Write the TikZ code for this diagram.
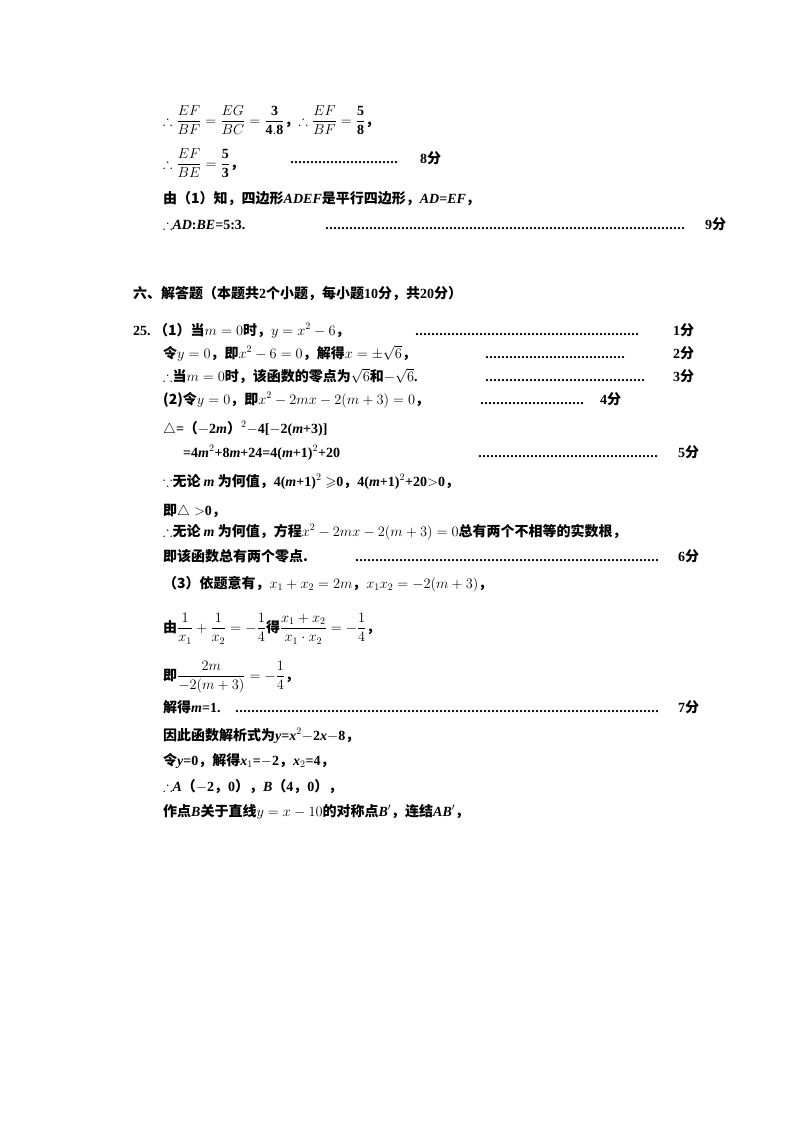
\documentclass[tikz,border=0pt]{standalone}
\usepackage{amsmath,amssymb}
\usepackage{fontspec}
\setmainfont{Liberation Serif}
\newfontfamily\cjk{Noto Sans CJK SC}
\newcommand{\C}[1]{{\cjk #1}}
\newcommand{\dts}[1]{\hbox to #1pt{\leaders\hbox to 4pt{\hss.\hss}\hfill}}
\begin{document}
\begin{tikzpicture}[x=1pt,y=1pt,every node/.style={anchor=base west,inner sep=0pt,font=\fontsize{14}{16}\selectfont\bfseries}]
\useasboundingbox[fill=white] (0,0) rectangle (800,-1129);
\node (l1) at (163,-125) {$\therefore \dfrac{EF}{BF}=\dfrac{EG}{BC}=\dfrac{\mathbf 3}{\mathbf{4.8}}$\C{，}$\therefore\dfrac{EF}{BF}=\dfrac{\mathbf 5}{\mathbf 8}$\C{，}};
\node (l2) at (163,-168) {$\therefore \dfrac{EF}{BE}=\dfrac{\mathbf 5}{\mathbf 3}$\C{，}};
\node (d2) at (290,-163) {\dts{110}};
\node (s2) at (420,-163) {8\C{分}};
\node (l3) at (163,-203) {\C{由（1）知，四边形}\textit{ADEF}\C{是平行四边形，}\textit{AD=EF}\C{，}};
\node (l4) at (163,-229) {$\therefore$\textit{AD}:\textit{BE}=5:3.};
\node (d4) at (325,-229) {\dts{360}};
\node (s4) at (705,-229) {9\C{分}};
\node (h6) at (133,-298) {\C{六、解答题（本题共}2\C{个小题，每小题}10\C{分，共}20\C{分）}};
\node (a1) at (133,-335) {25.\ \C{（1）当}$m=0$\C{时，}$y=x^2-6$\C{，}};
\node (d5) at (415,-335) {\dts{225}}; \node at (673,-335) {1\C{分}};
\node at (163,-358) {\C{令}$y=0$\C{，即}$x^2-6=0$\C{，解得}$x=\pm\sqrt6$\C{，}};
\node at (485,-358) {\dts{140}}; \node at (673,-358) {2\C{分}};
\node at (163,-381) {$\therefore$\C{当}$m=0$\C{时，该函数的零点为}$\sqrt6$\C{和}$-\sqrt6$.};
\node at (485,-381) {\dts{160}}; \node at (673,-381) {3\C{分}};
\node at (163,-404) {\C{(2)令}$y=0$\C{，即}$x^2-2mx-2(m+3)=0$\C{，}};
\node at (480,-404) {\dts{105}}; \node at (600,-404) {4\C{分}};
\node at (163,-433) {$\triangle$=\C{（}$-$2\textit{m}\C{）}$^2-$4[$-$2(\textit{m}+3)]};
\node at (183,-457) {=4\textit{m}$^2$+8\textit{m}+24=4(\textit{m}+1)$^2$+20};
\node at (478,-457) {\dts{180}}; \node at (678,-457) {5\C{分}};
\node at (163,-486) {$\because$\C{无论 }\textit{m}\C{ 为何值，}4(\textit{m}+1)$^2\geqslant$0\C{，}4(\textit{m}+1)$^2$+20$>$0\C{，}};
\node at (163,-515) {\C{即}$\triangle>$0\C{，}};
\node at (163,-536) {$\therefore$\C{无论 }\textit{m}\C{ 为何值，方程}$x^2-2mx-2(m+3)=0$\C{总有两个不相等的实数根，}};
\node at (163,-561) {\C{即该函数总有两个零点.}};
\node at (355,-561) {\dts{305}}; \node at (678,-561) {6\C{分}};
\node at (163,-588) {\C{（3）依题意有，}$x_1+x_2=2m$\C{，}$x_1x_2=-2(m+3)$\C{，}};
\node at (163,-632) {\C{由}$\dfrac{1}{x_1}+\dfrac{1}{x_2}=-\dfrac14$\C{得}$\dfrac{x_1+x_2}{x_1\cdot x_2}=-\dfrac14$\C{，}};
\node at (163,-680) {\C{即}$\dfrac{2m}{-2(m+3)}=-\dfrac14$\C{，}};
\node at (163,-712) {\C{解得}\textit{m}=1.};
\node at (235,-712) {\dts{425}}; \node at (678,-712) {7\C{分}};
\node at (163,-740) {\C{因此函数解析式为}\textit{y=x}$^2-$2\textit{x}$-$8\C{，}};
\node at (163,-765) {\C{令}\textit{y}=0\C{，解得}\textit{x}$_1$=$-$2\C{，}\textit{x}$_2$=4\C{，}};
\node at (163,-791) {$\therefore$\textit{A}\C{（}$-$2\C{，}0\C{），}\textit{B}\C{（}4\C{，}0\C{），}};
\node at (163,-816) {\C{作点}\textit{B}\C{关于直线}$y=x-10$\C{的对称点}\textit{B}$'$\C{，连结}\textit{AB}$'$\C{，}};
\end{tikzpicture}
\end{document}
